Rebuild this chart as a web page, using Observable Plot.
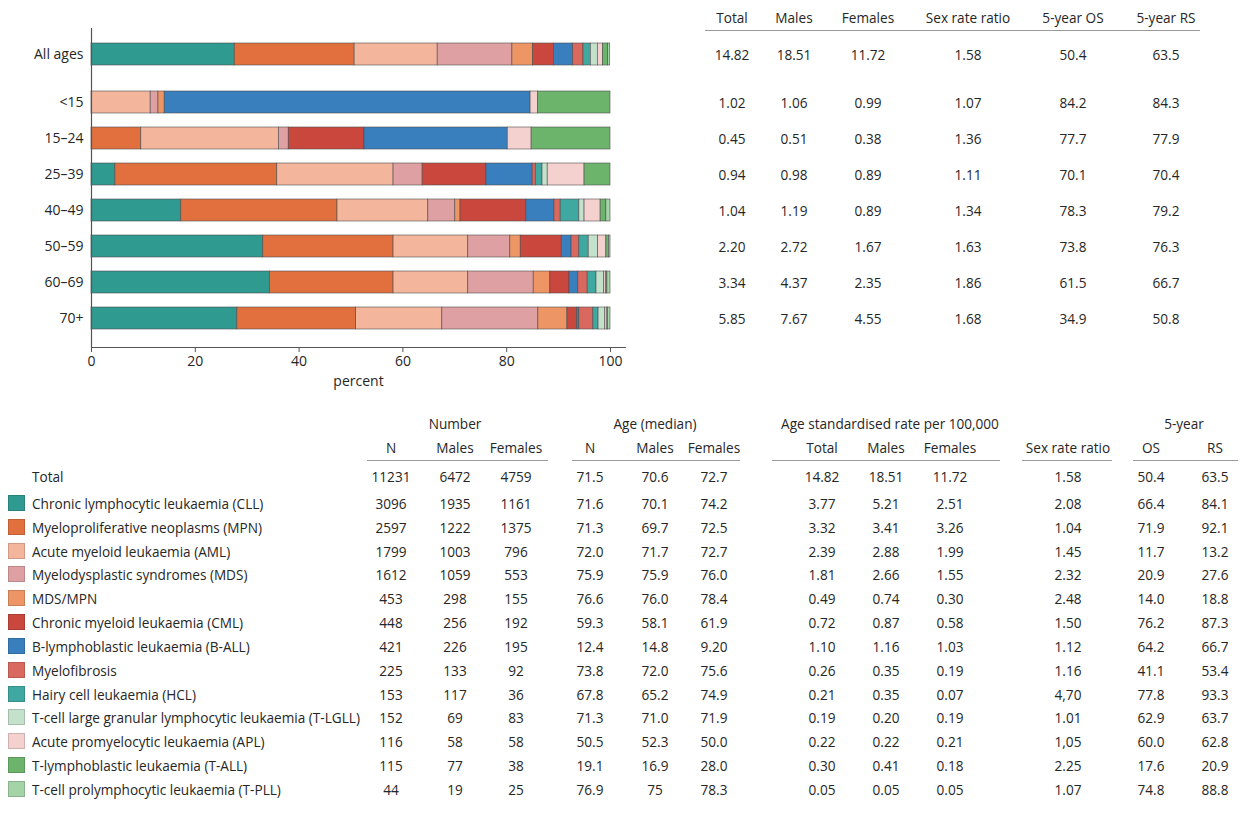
<!DOCTYPE html>
<html><head><meta charset="utf-8">
<script src="https://cdn.jsdelivr.net/npm/d3@7"></script>
<script src="https://cdn.jsdelivr.net/npm/@observablehq/plot@0.6"></script>
<style>
body{margin:0;background:#fff;}
#root{position:relative;width:1242px;height:816px;background:#fff;font-family:'Open Sans',sans-serif;color:#262626;font-size:13.6px;overflow:hidden;}
#chart{position:absolute;left:0;top:0;}
.c{position:absolute;white-space:nowrap;transform:translate(-50%,-50%);}
.l{position:absolute;white-space:nowrap;transform:translateY(-50%);}
.hr{position:absolute;height:0;border-top:1px solid #9a9a9a;}
.sw{position:absolute;width:17px;height:16px;transform:translateY(-50%);box-shadow:inset 0 0 0 1px rgba(0,0,0,0.15);}
</style></head><body><div id="root"><div id="chart"></div></div>
<script>
// ---------- data ----------
const ageGroups = ["All ages", "<15", "15–24", "25–39", "40–49", "50–59", "60–69", "70+"];
const subtypes = [
  "Chronic lymphocytic leukaemia (CLL)",
  "Myeloproliferative neoplasms (MPN)",
  "Acute myeloid leukaemia (AML)",
  "Myelodysplastic syndromes (MDS)",
  "MDS/MPN",
  "Chronic myeloid leukaemia (CML)",
  "B-lymphoblastic leukaemia (B-ALL)",
  "Myelofibrosis",
  "Hairy cell leukaemia (HCL)",
  "T-cell large granular lymphocytic leukaemia (T-LGLL)",
  "Acute promyelocytic leukaemia (APL)",
  "T-lymphoblastic leukaemia (T-ALL)",
  "T-cell prolymphocytic leukaemia (T-PLL)"
];
const colors = ["#2e9a90", "#e2703f", "#f3b59c", "#dea0a2", "#ee9566", "#c9473d",
                "#3a7fbd", "#d9685f", "#3fa9a1", "#c3e1cb", "#f4d0cf", "#6cb46c", "#a3d3a6"];

// percent of cases per subtype (same order as subtypes)
const pctAllAges = [27.6, 23.1, 16.0, 14.4, 4.0, 4.0, 3.7, 2.0, 1.4, 1.35, 1.0, 1.0, 0.4];
const pctUnder15 = [0, 0, 11.4, 1.5, 1.2, 0, 70.5, 0, 0, 0, 1.4, 14.0, 0];
const pct15to24  = [0, 9.6, 26.5, 1.9, 0, 14.6, 27.6, 0, 0, 0, 4.6, 15.2, 0];
const pct25to39  = [4.6, 31.2, 22.4, 5.6, 0, 12.3, 8.9, 0.6, 1.3, 1.0, 7.1, 5.0, 0];
const pct40to49  = [17.3, 30.1, 17.5, 5.2, 1.0, 12.7, 5.4, 1.2, 3.6, 1.0, 3.1, 1.1, 0.8];
const pct50to59  = [33.1, 25.1, 14.4, 8.1, 2.0, 7.9, 1.9, 1.5, 1.8, 1.8, 1.6, 0.5, 0.3];
const pct60to69  = [34.4, 23.8, 14.4, 12.6, 3.2, 3.7, 1.7, 1.8, 1.7, 1.5, 0.4, 0.2, 0.6];
const pct70plus  = [28.1, 22.9, 16.6, 18.5, 5.6, 1.9, 0.4, 2.7, 1.0, 1.3, 0.4, 0.1, 0.5];
const pctRows = [pctAllAges, pctUnder15, pct15to24, pct25to39, pct40to49, pct50to59, pct60to69, pct70plus];

// top-right table (one value per age group)
const topHeaders = ["Total", "Males", "Females", "Sex rate ratio", "5-year OS", "5-year RS"];
const topTotal   = ["14.82", "1.02", "0.45", "0.94", "1.04", "2.20", "3.34", "5.85"];
const topMales   = ["18.51", "1.06", "0.51", "0.98", "1.19", "2.72", "4.37", "7.67"];
const topFemales = ["11.72", "0.99", "0.38", "0.89", "0.89", "1.67", "2.35", "4.55"];
const topRatio   = ["1.58", "1.07", "1.36", "1.11", "1.34", "1.63", "1.86", "1.68"];
const topOS      = ["50.4", "84.2", "77.7", "70.1", "78.3", "73.8", "61.5", "34.9"];
const topRS      = ["63.5", "84.3", "77.9", "70.4", "79.2", "76.3", "66.7", "50.8"];

// bottom table (Total row first, then subtypes)
const groupHeaders = ["Number", "Age (median)", "Age standardised rate per 100,000", "5-year"];
const colHeaders = ["N", "Males", "Females", "N", "Males", "Females", "Total", "Males", "Females", "Sex rate ratio", "OS", "RS"];
const nTotal     = ["11231", "3096", "2597", "1799", "1612", "453", "448", "421", "225", "153", "152", "116", "115", "44"];
const nMales     = ["6472", "1935", "1222", "1003", "1059", "298", "256", "226", "133", "117", "69", "58", "77", "19"];
const nFemales   = ["4759", "1161", "1375", "796", "553", "155", "192", "195", "92", "36", "83", "58", "38", "25"];
const ageN       = ["71.5", "71.6", "71.3", "72.0", "75.9", "76.6", "59.3", "12.4", "73.8", "67.8", "71.3", "50.5", "19.1", "76.9"];
const ageMales   = ["70.6", "70.1", "69.7", "71.7", "75.9", "76.0", "58.1", "14.8", "72.0", "65.2", "71.0", "52.3", "16.9", "75"];
const ageFemales = ["72.7", "74.2", "72.5", "72.7", "76.0", "78.4", "61.9", "9.20", "75.6", "74.9", "71.9", "50.0", "28.0", "78.3"];
const rateTotal  = ["14.82", "3.77", "3.32", "2.39", "1.81", "0.49", "0.72", "1.10", "0.26", "0.21", "0.19", "0.22", "0.30", "0.05"];
const rateMales  = ["18.51", "5.21", "3.41", "2.88", "2.66", "0.74", "0.87", "1.16", "0.35", "0.35", "0.20", "0.22", "0.41", "0.05"];
const rateFemales= ["11.72", "2.51", "3.26", "1.99", "1.55", "0.30", "0.58", "1.03", "0.19", "0.07", "0.19", "0.21", "0.18", "0.05"];
const sexRatio   = ["1.58", "2.08", "1.04", "1.45", "2.32", "2.48", "1.50", "1.12", "1.16", "4,70", "1.01", "1,05", "2.25", "1.07"];
const os5        = ["50.4", "66.4", "71.9", "11.7", "20.9", "14.0", "76.2", "64.2", "41.1", "77.8", "62.9", "60.0", "17.6", "74.8"];
const rs5        = ["63.5", "84.1", "92.1", "13.2", "27.6", "18.8", "87.3", "66.7", "53.4", "93.3", "63.7", "62.8", "20.9", "88.8"];

// ---------- chart ----------
const rows = [];
ageGroups.forEach((g, i) => pctRows[i].forEach((v, j) => { if (v > 0) rows.push({age: g, subtype: subtypes[j], pct: v}); }));

const barOpts = {x: "pct", y: "age", fill: "subtype", stroke: "#4d4d4d", strokeWidth: 0.6};
const shiftAll = -12;
const chart = Plot.plot({
  width: 640, height: 400,
  marginLeft: 91, marginRight: 15, marginTop: 28, marginBottom: 53,
  style: {fontFamily: "'Open Sans', sans-serif", fontSize: "13.6px", color: "#262626", background: "transparent"},
  x: {domain: [0, 100], range: [91, 610]},
  y: {type: "band", domain: ageGroups, range: [37.5, 347.5], padding: 0.38, axis: null},
  color: {domain: subtypes, range: colors},
  marks: [
    Plot.barX(rows.filter(d => d.age === ageGroups[0]), Plot.stackX({...barOpts, dy: shiftAll})),
    Plot.barX(rows.filter(d => d.age !== ageGroups[0]), Plot.stackX(barOpts)),
    Plot.text(ageGroups.slice(0, 1), {y: d => d, text: d => d, frameAnchor: "left", textAnchor: "end", dx: -8, dy: shiftAll, fontSize: 14}),
    Plot.text(ageGroups.slice(1), {y: d => d, text: d => d, frameAnchor: "left", textAnchor: "end", dx: -8, fontSize: 14}),
    Plot.ruleX([0], {stroke: "#555", strokeWidth: 1.2}),
    Plot.frame({anchor: "bottom", stroke: "#555", strokeWidth: 1.2}),
    Plot.axisX({ticks: [0, 20, 40, 60, 80, 100], tickSize: 5, tickPadding: 4, label: "percent", labelAnchor: "center", labelArrow: "none", labelOffset: 38, stroke: "#555", fontSize: 14})
  ]
});
document.getElementById("chart").appendChild(chart);

const root = document.getElementById("root");
function add(cls, x, y, text, extra) {
  const d = document.createElement("div");
  d.className = cls;
  d.style.left = x + "px";
  d.style.top = y + "px";
  if (text != null) d.textContent = text;
  if (extra) Object.assign(d.style, extra);
  root.appendChild(d);
  return d;
}

// ---------- top-right table, aligned with the bars ----------
const ys = chart.scale("y");
const topCols = [topTotal, topMales, topFemales, topRatio, topOS, topRS];
const topX = [732, 794, 868, 968, 1073, 1166];
topHeaders.forEach((h, k) => add("c", topX[k], 17, h));
add("hr", 705, 30, null, {width: "495px"});
ageGroups.forEach((g, i) => {
  const yc = ys.apply(g) + ys.bandwidth / 2 + (i === 0 ? shiftAll : 0);
  topCols.forEach((col, k) => add("c", topX[k], yc, col[i]));
});

// ---------- bottom table ----------
const groupX = [455, 655, 890, 1184];
groupHeaders.forEach((h, k) => add("c", groupX[k], 423, h));
const colX = [391, 455, 516, 590, 655, 714, 822, 886, 950, 1068, 1151, 1215];
colHeaders.forEach((h, k) => add("c", colX[k], 447, h));
[[367, 548], [572, 740], [772, 1000], [1022, 1112], [1133, 1238]].forEach(([a, b]) => add("hr", a, 460, null, {width: (b - a) + "px"}));
const bottomCols = [nTotal, nMales, nFemales, ageN, ageMales, ageFemales, rateTotal, rateMales, rateFemales, sexRatio, os5, rs5];
const rowLabels = ["Total", ...subtypes];
rowLabels.forEach((lab, i) => {
  const yc = i === 0 ? 476 : 503 + (i - 1) * 23.83;
  add("l", 32, yc, lab);
  if (i > 0) add("sw", 8, yc, null, {background: colors[i - 1]});
  bottomCols.forEach((col, k) => add("c", colX[k], yc, col[i]));
});
</script></body></html>
